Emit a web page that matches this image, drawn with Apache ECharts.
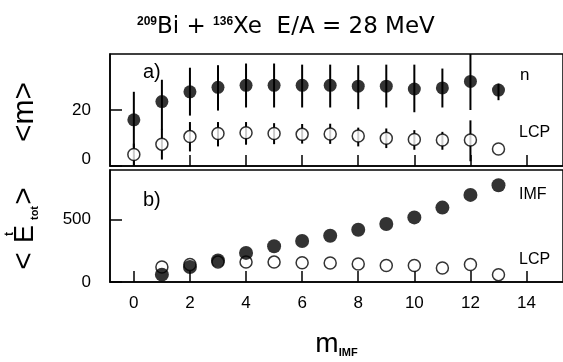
<!DOCTYPE html>
<html>
<head>
<meta charset="utf-8">
<script src="https://cdn.jsdelivr.net/npm/echarts@6/dist/echarts.min.js"></script>
<style>
html, body { margin: 0; padding: 0; background: #fff; }
#chart { width: 563px; height: 362px; }
</style>
</head>
<body>
<div id="chart"></div>
<script>
// panel a) : mean multiplicities vs m_IMF
const multA = [0, 1, 2, 3, 4, 5, 6, 7, 8, 9, 10, 11, 12, 13]
const nMean = [16.5, 23.0, 26.5, 28.1, 28.8, 28.8, 28.8, 28.8, 28.5, 28.5, 27.5, 27.9, 30.2, 27.1]
const nLow = [6.5, 13.0, 18.0, 19.8, 20.9, 20.9, 20.9, 20.9, 20.3, 20.9, 19.2, 20.9, 20.0, 23.5]
const nHigh = [26.5, 30.8, 35.1, 36.0, 36.6, 36.6, 36.2, 36.2, 36.0, 36.2, 36.2, 34.8, 40.0, 29.4]
const lcpMean = [4.1, 7.8, 10.5, 11.6, 11.9, 11.6, 11.3, 11.4, 10.7, 9.9, 9.5, 9.3, 9.3, 6.1]
const lcpLow = [0, 2.3, 5.2, 7.0, 7.6, 7.8, 8.0, 7.9, 7.0, 6.4, 5.8, 5.8, 1.7, null]
const lcpHigh = [8.0, 13.3, 15.7, 15.7, 15.7, 15.3, 15.0, 15.1, 13.7, 13.4, 12.8, 12.2, 16.3, null]

// panel b) : total kinetic energies vs m_IMF
const multB = [1, 2, 3, 4, 5, 6, 7, 8, 9, 10, 11, 12, 13]
const imfE = [59, 120, 173, 234, 287, 330, 372, 420, 466, 519, 598, 700, 777]
const lcpE = [120, 141, 160, 160, 160, 155, 152, 144, 133, 133, 112, 141, 59]

const xTicks = [0, 2, 4, 6, 8, 10, 12, 14]
const yTicksA = [0, 20]
const yTicksB = [0, 500]

const FONT = "'Liberation Sans', Arial, sans-serif"

const bars = (xs, lo, hi) =>
  xs.map((x, i) => [x, lo[i], hi[i]]).filter(d => d[1] !== null)

const errRender = (params, api) => {
  const p1 = api.coord([api.value(0), api.value(1)])
  const p2 = api.coord([api.value(0), api.value(2)])
  return {
    type: 'line',
    shape: { x1: p1[0], y1: p1[1], x2: p2[0], y2: p2[1] },
    style: { stroke: '#000', lineWidth: 2 },
  }
}

const axisLine = { show: true, onZero: false, lineStyle: { color: '#000', width: 1.5 } }

const xAxisBase = {
  type: 'value',
  min: -0.85,
  max: 15.3,
  axisLine: axisLine,
  splitLine: { show: false },
  axisTick: { inside: true, length: 11, customValues: xTicks, lineStyle: { color: '#000', width: 1.5 } },
}
const yAxisBase = {
  type: 'value',
  min: 0,
  axisLine: axisLine,
  splitLine: { show: false },
  axisLabel: { color: '#000', fontSize: 17, fontFamily: FONT, margin: 19 },
}

const filled = { color: '#000' }
const open = { color: '#fff', borderColor: '#000', borderWidth: 1.5 }

const txt = (text, x, y, size, extra) => ({
  type: 'text', x: x, y: y,
  style: Object.assign({
    text: text, fill: '#000', font: size + 'px ' + FONT,
    textAlign: 'left', align: 'left', textVerticalAlign: 'middle', verticalAlign: 'middle',
  }, extra || {}),
})

const option = {
  animation: false,
  backgroundColor: '#fff',
  title: {
    text: '{sup|209}Bi + {sup|136}Xe  E/A = 28 MeV',
    left: 132,
    top: 11,
    textStyle: {
      color: '#000', fontSize: 23, fontWeight: 'normal', fontFamily: "'DejaVu Sans', sans-serif",
      rich: {
        sup: { fontSize: 12, fontWeight: 'bold', fontFamily: FONT, color: '#000', verticalAlign: 'top' },
      },
    },
  },
  grid: [
    { left: 110, top: 54, width: 463, height: 112, show: true, borderColor: '#000', borderWidth: 1.5 },
    { left: 110, top: 170, width: 463, height: 112, show: true, borderColor: '#000', borderWidth: 1.5 },
  ],
  xAxis: [
    Object.assign({}, xAxisBase, { gridIndex: 0, axisLabel: { show: false } }),
    Object.assign({}, xAxisBase, {
      gridIndex: 1,
      axisLabel: { customValues: xTicks, color: '#000', fontSize: 17, fontFamily: FONT, margin: 13 },
      name: '{m|m}{sub|IMF}',
      nameLocation: 'middle',
      nameGap: 48,
      nameTextStyle: {
        rich: {
          m: { fontSize: 28, fontFamily: FONT, color: '#000' },
          sub: { fontSize: 11, fontWeight: 'bold', fontFamily: FONT, color: '#000', verticalAlign: 'bottom' },
        },
      },
    }),
  ],
  yAxis: [
    Object.assign({}, yAxisBase, {
      gridIndex: 0, max: 40,
      axisTick: { show: true, inside: true, length: 12, customValues: yTicksA, lineStyle: { color: '#000', width: 1.5 } },
      axisLabel: Object.assign({}, yAxisBase.axisLabel, {
        customValues: yTicksA,
        // the zero of the upper panel sits a little higher, clear of the lower panel
        formatter: v => (v === 0 ? '{lo|0}' : String(v)),
        rich: { lo: { fontSize: 17, fontFamily: FONT, color: '#000', padding: [0, 0, 14, 0] } },
      }),
    }),
    Object.assign({}, yAxisBase, {
      gridIndex: 1, max: 900,
      axisTick: { show: true, inside: true, length: 12, customValues: yTicksB, lineStyle: { color: '#000', width: 1.5 } },
      axisLabel: Object.assign({}, yAxisBase.axisLabel, { customValues: yTicksB }),
    }),
  ],
  series: [
    { type: 'custom', xAxisIndex: 0, yAxisIndex: 0, renderItem: errRender, data: bars(multA, nLow, nHigh), z: 1 },
    { type: 'custom', xAxisIndex: 0, yAxisIndex: 0, renderItem: errRender, data: bars(multA, lcpLow, lcpHigh), z: 1 },
    {
      name: 'n', type: 'scatter', xAxisIndex: 0, yAxisIndex: 0, z: 3,
      symbol: 'circle', symbolSize: 13, itemStyle: filled,
      data: multA.map((x, i) => [x, nMean[i]]),
    },
    {
      name: 'LCP', type: 'scatter', xAxisIndex: 0, yAxisIndex: 0, z: 3,
      symbol: 'circle', symbolSize: 12, itemStyle: open,
      data: multA.map((x, i) => [x, lcpMean[i]]),
    },
    {
      name: 'LCP E', type: 'scatter', xAxisIndex: 1, yAxisIndex: 1, z: 3,
      symbol: 'circle', symbolSize: 12, itemStyle: open,
      data: multB.map((x, i) => [x, lcpE[i]]),
    },
    {
      name: 'IMF E', type: 'scatter', xAxisIndex: 1, yAxisIndex: 1, z: 4,
      symbol: 'circle', symbolSize: 14, itemStyle: filled,
      data: multB.map((x, i) => [x, imfE[i]]),
    },
  ],
  graphic: [
    txt('a)', 143, 72, 20),
    txt('b)', 143, 200, 20),
    txt('n', 520, 75, 17),
    txt('LCP', 519, 133, 16),
    txt('IMF', 519, 195, 16),
    txt('LCP', 519, 260, 16),
    {
      type: 'group', x: 25, y: 112, rotation: Math.PI / 2,
      children: [txt('<m>', 0, 0, 30, { textAlign: 'center', align: 'center' })],
    },
    {
      type: 'group', x: 25, y: 226, rotation: Math.PI / 2,
      children: [
        txt('<', -35, 0, 30, { textAlign: 'center', align: 'center' }),
        txt('E', -8, 1, 27, { textAlign: 'center', align: 'center' }),
        txt('t', -8, -15, 12, { textAlign: 'center', align: 'center', font: 'bold 12px ' + FONT }),
        txt('tot', 13, 10, 11, { textAlign: 'center', align: 'center', font: 'bold 11px ' + FONT }),
        txt('>', 30, 0, 30, { textAlign: 'center', align: 'center' }),
      ],
    },
  ],
}

const chart = echarts.init(document.getElementById('chart'))
chart.setOption(option)
window.addEventListener('resize', function () {
  chart.resize()
})
</script>
</body>
</html>
